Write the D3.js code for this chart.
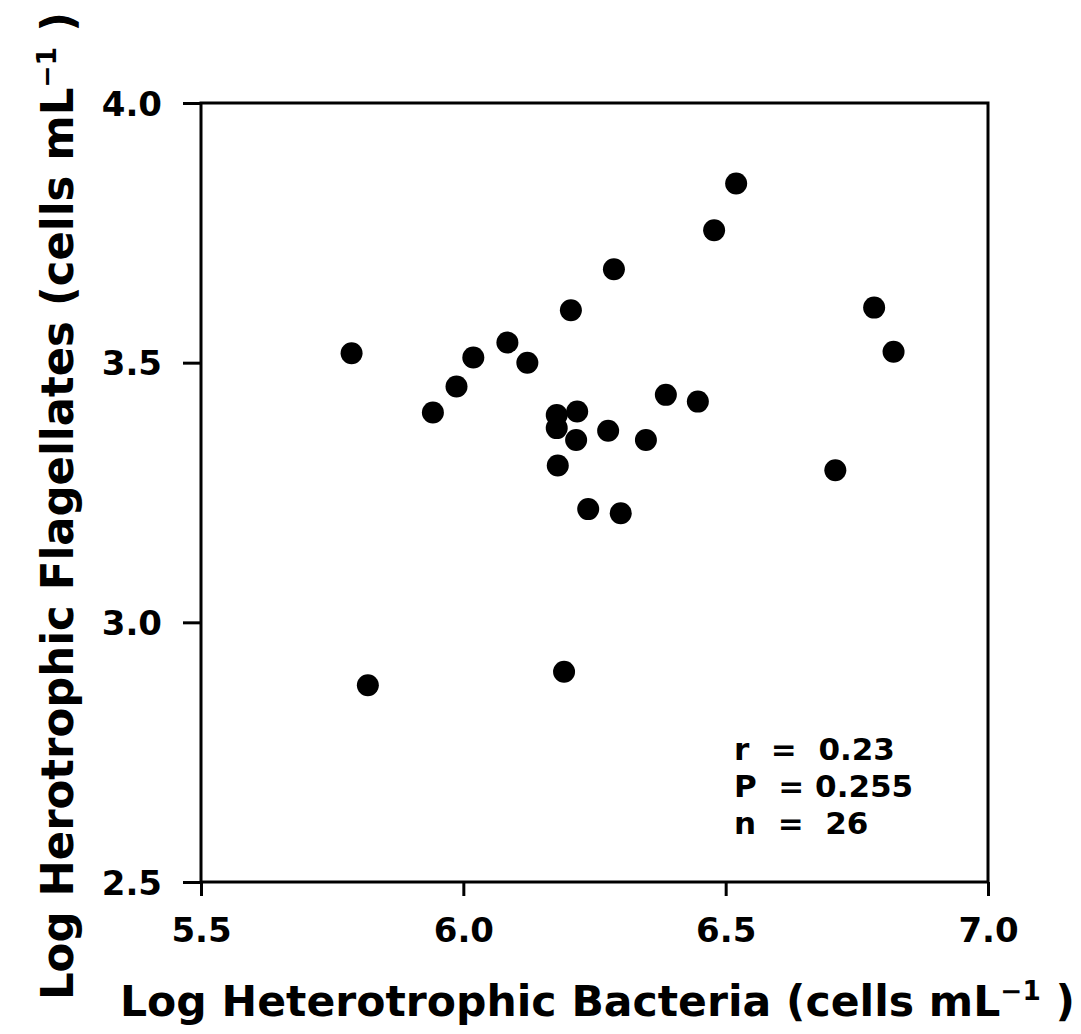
<!DOCTYPE html>
<html>
<head>
<meta charset="utf-8">
<script src="https://cdn.jsdelivr.net/npm/d3@7"></script>
<style>
  body { margin: 0; background: #fff; }
  text { font-family: "DejaVu Sans", sans-serif; font-weight: bold; fill: #000; }
</style>
</head>
<body>
<div id="chart"></div>
<script>
// scatter: log bacteria vs log flagellates

var bacteria = [5.787, 5.818, 5.942, 5.987, 6.019, 6.084, 6.122, 6.178, 6.178, 6.180, 6.192, 6.205, 6.215,
                6.217, 6.238, 6.276, 6.287, 6.300, 6.348, 6.386, 6.447, 6.478, 6.520, 6.709, 6.783, 6.820];
var flagellates = [3.518, 2.879, 3.404, 3.454, 3.510, 3.539, 3.500, 3.399, 3.374, 3.302, 2.905, 3.601, 3.351,
                   3.406, 3.218, 3.369, 3.680, 3.210, 3.351, 3.438, 3.425, 3.755, 3.845, 3.293, 3.606, 3.521];
var xTicks = [5.5, 6.0, 6.5, 7.0];
var yTicks = [2.5, 3.0, 3.5, 4.0];
var stats = ["r  =  0.23", "P  = 0.255", "n  =  26"];

var width = 1081,
    height = 1034;

var svg = d3.select("#chart").append("svg")
    .attr("width", width)
    .attr("height", height);

var x = d3.scaleLinear().domain([5.5, 7.0]).range([201, 988]);
var y = d3.scaleLinear().domain([2.5, 4.0]).range([882, 103]);

// frame
svg.append("rect")
    .attr("x", x(5.5)).attr("y", y(4.0))
    .attr("width", x(7.0) - x(5.5))
    .attr("height", y(2.5) - y(4.0))
    .attr("fill", "none")
    .attr("stroke", "#000")
    .attr("stroke-width", 3);

// axes
var xAxis = svg.append("g")
    .attr("transform", "translate(0," + y(2.5) + ")")
    .call(d3.axisBottom(x).tickValues(xTicks).tickFormat(d3.format(".1f")).tickSize(14).tickPadding(22));
var yAxis = svg.append("g")
    .attr("transform", "translate(" + x(5.5) + ",0)")
    .call(d3.axisLeft(y).tickValues(yTicks).tickFormat(d3.format(".1f")).tickSize(18).tickPadding(21));

[xAxis, yAxis].forEach(function(g) {
    g.select(".domain").remove();
    g.selectAll(".tick line").attr("stroke", "#000").attr("stroke-width", 3);
    g.selectAll(".tick text").style("font-size", "34px").attr("fill", "#000");
});
yAxis.selectAll(".tick text").attr("dy", "0.36em");

// points
svg.selectAll("circle")
    .data(bacteria)
    .enter()
    .append("circle")
    .attr("cx", function(d) { return x(d); })
    .attr("cy", function(d, i) { return y(flagellates[i]); })
    .attr("r", 11)
    .attr("fill", "#000");

// stats text
svg.selectAll(".stat")
    .data(stats)
    .enter()
    .append("text")
    .attr("class", "stat")
    .attr("x", 734)
    .attr("y", function(d, i) { return 760 + i * 37; })
    .style("font-size", "31px")
    .style("white-space", "pre")
    .attr("xml:space", "preserve")
    .text(function(d) { return d; });

// axis titles
var xt = svg.append("text")
    .attr("x", 120)
    .attr("y", 1016)
    .style("font-size", "42px")
    .attr("textLength", 955)
    .attr("lengthAdjust", "spacingAndGlyphs");
xt.append("tspan").text("Log Heterotrophic Bacteria (cells mL");
xt.append("tspan").attr("dy", -16).style("font-size", "26px").text("\u22121");
xt.append("tspan").attr("dy", 16).text(" )");

var yt = svg.append("text")
    .attr("transform", "translate(73,1000) rotate(-90)")
    .style("font-size", "44px")
    .attr("textLength", 988)
    .attr("lengthAdjust", "spacingAndGlyphs");
yt.append("tspan").text("Log Herotrophic Flagellates (cells mL");
yt.append("tspan").attr("dy", -17).style("font-size", "27px").text("\u22121");
yt.append("tspan").attr("dy", 17).text(" )");
</script>
</body>
</html>
